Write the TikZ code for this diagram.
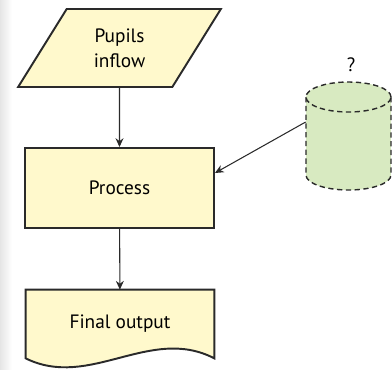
\documentclass[tikz,border=0pt]{standalone}
\usepackage{fontspec}
\setmainfont{PT Sans}
\usetikzlibrary{arrows.meta,backgrounds,shapes.geometric,positioning}
\definecolor{boxyellow}{HTML}{FFF9CC}
\definecolor{storegreen}{HTML}{D8EAC1}
\definecolor{edgegray}{HTML}{2A2A2A}

\begin{document}
\begin{tikzpicture}[x=0.02cm,y=-0.02cm,font=\fontsize{11}{14}\selectfont,
        box/.style={draw=edgegray,line width=1.1pt,fill=boxyellow},
        storeline/.style={draw=edgegray,dash pattern=on 3pt off 2pt,line width=0.8pt},
        flow/.style={draw=edgegray,line width=0.6pt,-{Stealth[length=5pt,width=4.5pt]}}]
        % Flowchart: pupils in, process, output
        \useasboundingbox (0,0) rectangle (392,369);
        \shade[left color=black!10,right color=white] (0,0) rectangle (12,369);

        \node[box,trapezium,trapezium left angle=60,trapezium right angle=120,
              trapezium stretches=true,minimum width=4.06cm,minimum height=1.56cm,
              align=center] (inflow) at (119.5,48) {Pupils\\inflow};
        \node[box,minimum width=3.78cm,minimum height=1.6cm] (process) at (119.5,188) {Process};
        \node[minimum width=3.76cm,minimum height=1.36cm] (output) at (120,324) {Final output};
        \begin{scope}[on background layer]
            \draw[box] (output.south east) -- (output.north east) -- (output.north west)
                -- (output.south west) .. controls (90,390) and (150,325) .. (output.south east) -- cycle;
        \end{scope}

        % data store (cylinder)
        \node[minimum width=1.7cm,minimum height=2.16cm,inner sep=0pt] (store) at (348.5,136) {};
        \fill[storegreen] (306,97) -- (306,175) arc[start angle=180,end angle=360,x radius=0.85cm,y radius=0.3cm]
            -- (391,97) arc[start angle=0,end angle=180,x radius=0.85cm,y radius=0.3cm] -- cycle;
        \draw[storeline] (306,97) -- (306,175) arc[start angle=180,end angle=360,x radius=0.85cm,y radius=0.3cm]
            -- (391,97);
        \draw[storeline] (348.5,97) ellipse[x radius=0.85cm,y radius=0.3cm];
        \node (query) at (351,65) {?};

        \draw[flow] (inflow) -- (process);
        \draw[flow] (process) -- (output);
        \draw[flow] ([yshift=0.28cm]store.west) -- ([yshift=0.3cm]process.east);
    \end{tikzpicture}
\end{document}
